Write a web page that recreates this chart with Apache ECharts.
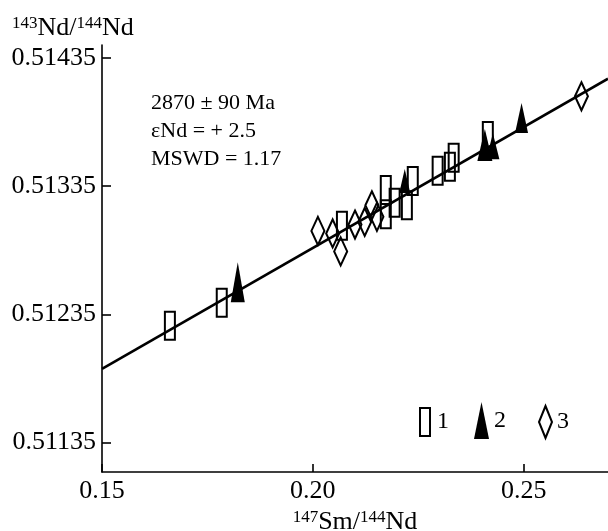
<!DOCTYPE html>
<html>
<head>
<meta charset="utf-8">
<script src="https://cdn.jsdelivr.net/npm/echarts@6/dist/echarts.min.js"></script>
<style>
html,body{margin:0;padding:0;background:#fff;}
#chart{width:608px;height:531px;}
</style>
</head>
<body>
<div id="chart"></div>
<script>
// Series 1 (open rectangles): [147Sm/144Nd, 143Nd/144Nd]
var series1 = [
  [0.1661, 0.51226], [0.1784, 0.51244], [0.2069, 0.51304], [0.2173, 0.51332],
  [0.2173, 0.51313], [0.2194, 0.51322], [0.2223, 0.51320], [0.2237, 0.51339],
  [0.2296, 0.51347], [0.2325, 0.51350], [0.2334, 0.51357], [0.2415, 0.51374]
];
// Series 2 (filled triangles)
var series2 = [
  [0.1822, 0.51260], [0.2218, 0.51339], [0.2408, 0.51367], [0.2427, 0.51366],
  [0.2495, 0.51388]
];
// Series 3 (open diamonds)
var series3 = [
  [0.2012, 0.51300], [0.2047, 0.51298], [0.2066, 0.51284], [0.2100, 0.51305],
  [0.2123, 0.51307], [0.2140, 0.51320], [0.2152, 0.51311], [0.2637, 0.51405]
];
// Isochron line endpoints
var isochron = [[0.15, 0.511925], [0.27, 0.514187]];
var xTicks = [0.15, 0.20, 0.25];
var yTicks = [0.51135, 0.51235, 0.51335, 0.51435];
var annotation = ['2870 ± 90 Ma', 'εNd = + 2.5', 'MSWD = 1.17'];

var FONT = 'Liberation Serif';
var INK = '#000';
var RECT_PATH = 'path://M0,0L10,0L10,28L0,28Z';
var DIAMOND_PATH = 'path://M6.5,0L13,14L6.5,28L0,14Z';

var chart = echarts.init(document.getElementById('chart'));
chart.setOption({
  backgroundColor: '#fff',
  animation: false,
  textStyle: {fontFamily: FONT, color: INK},
  title: {
    text: annotation.join('\n'),
    left: 146, top: 84,
    textStyle: {fontFamily: FONT, fontSize: 22, fontWeight: 'normal', color: INK, lineHeight: 28}
  },
  grid: {left: 102, right: 0, top: 45, bottom: 59, containLabel: false, outerBoundsMode: 'none'},
  legend: [
    {data: [{name: '1', icon: RECT_PATH}], left: 414, top: 402, itemWidth: 10, itemHeight: 28, itemGap: 0,
     textStyle: {fontFamily: FONT, fontSize: 24, color: INK, padding: [0,0,0,2]}},
    {data: [{name: '2', icon: 'triangle'}], left: 469, top: 397, itemWidth: 15, itemHeight: 37, itemGap: 0,
     textStyle: {fontFamily: FONT, fontSize: 24, color: INK, padding: [0,0,0,0]}},
    {data: [{name: '3', icon: DIAMOND_PATH}], left: 533, top: 400, itemWidth: 13, itemHeight: 32, itemGap: 0,
     symbolKeepAspect: false,
     textStyle: {fontFamily: FONT, fontSize: 24, color: INK, padding: [0,0,0,0]}}
  ],
  xAxis: {
    type: 'value', min: 0.15, max: 0.27,
    name: '{sup|147}Sm/{sup|144}Nd', nameLocation: 'middle', nameGap: 32,
    nameTextStyle: {fontFamily: FONT, fontSize: 26, color: INK,
      rich: {sup: {fontFamily: FONT, fontSize: 17, verticalAlign: 'top', padding: [0,0,9,0], color: INK}}},
    axisLine: {lineStyle: {color: INK, width: 1.6}},
    axisTick: {inside: true, length: 8, lineStyle: {color: INK, width: 1.6}, customValues: xTicks},
    axisLabel: {customValues: xTicks, fontFamily: FONT, fontSize: 26, color: INK, margin: 6,
      formatter: function (v) { return v.toFixed(2); }},
    splitLine: {show: false}
  },
  yAxis: {
    type: 'value', min: 0.51112, max: 0.51445,
    name: '{sup|143}Nd/{sup|144}Nd', nameLocation: 'end', nameGap: 4,
    nameTextStyle: {fontFamily: FONT, fontSize: 26, color: INK, align: 'left', padding: [0, 0, 0, -90],
      rich: {sup: {fontFamily: FONT, fontSize: 17, verticalAlign: 'top', padding: [0,0,9,0], color: INK}}},
    axisLine: {lineStyle: {color: INK, width: 1.6}},
    axisTick: {inside: true, length: 9, lineStyle: {color: INK, width: 1.6}, customValues: yTicks},
    axisLabel: {customValues: yTicks, fontFamily: FONT, fontSize: 26, color: INK, margin: 6,
      formatter: function (v) { return v.toFixed(5); }},
    splitLine: {show: false}
  },
  series: [
    {
      name: 'isochron', type: 'line', data: isochron, symbol: 'none', silent: true,
      lineStyle: {color: INK, width: 2.6}, z: 1
    },
    {
      name: '1', type: 'scatter', data: series1, symbol: RECT_PATH, symbolSize: 28, symbolKeepAspect: true,
      itemStyle: {color: 'rgba(255,255,255,0)', borderColor: INK, borderWidth: 2, opacity: 1}, z: 3
    },
    {
      name: '2', type: 'scatter', data: series2, symbol: 'triangle',
      symbolSize: function (v, p) { return [[14, 40], [11, 24], [15, 32], [13, 26], [13, 30]][p.dataIndex]; },
      itemStyle: {color: INK, borderColor: INK, borderWidth: 0, opacity: 1}, z: 2
    },
    {
      name: '3', type: 'scatter', data: series3, symbol: DIAMOND_PATH, symbolSize: 28, symbolKeepAspect: true,
      itemStyle: {color: 'rgba(255,255,255,0)', borderColor: INK, borderWidth: 2, opacity: 1}, z: 3
    }
  ]
});
</script>
</body>
</html>
